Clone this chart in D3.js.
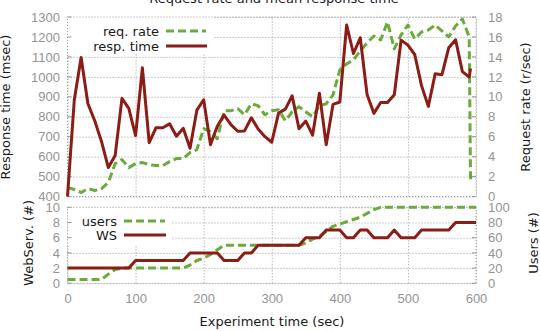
<!DOCTYPE html>
<html>
<head>
<meta charset="utf-8">
<script src="https://cdn.jsdelivr.net/npm/d3@7"></script>
<style>
  body { margin: 0; background: #fff; }
  svg { display: block; font-family: "DejaVu Sans", sans-serif; }
  .tick text { fill: #949494; font-size: 13px; }
  .grid line { stroke: #9a9a9a; stroke-dasharray: 1,2; }
  .grid path { display: none; }
  .lbl { fill: #1a1a1a; font-size: 13px; }
</style>
</head>
<body>
<div id="chart"></div>
<script>
// ---------- data ----------
// top panel: request rate (r/sec) and mean response time (msec)
const topTimes = [0,10,20,30,40,50,60,70,80,90,100,110,120,130,140,150,160,170,180,190,
  200,210,220,230,240,250,260,270,280,290,300,310,320,330,340,350,360,370,380,390,
  400,410,420,430,440,450,460,470,480,490,500,510,520,530,540,550,560,570,580,590,592];
const respTime = [400,885,1097,865,780,675,545,605,892,842,705,1045,670,745,745,765,702,742,642,833,
  885,660,752,808,760,727,729,795,738,700,672,818,838,905,740,778,708,918,660,862,
  874,1260,1117,1196,912,817,871,871,910,1184,1159,1112,956,852,1015,1011,1146,1186,1026,999,1042];
const reqRate = [0.9,0.7,0.4,0.8,0.6,0.8,1.4,3.3,3.7,2.9,3.3,3.4,3.2,3.1,3.1,3.5,3.8,3.8,4.4,4.7,
  6.8,6.5,5.8,8.6,8.6,8.8,8.2,9.3,9.1,8.2,8.6,8.7,7.6,8.5,9.0,8.5,8.0,9.1,9.3,10.2,
  12.7,13.3,13.7,14.6,15.4,16.1,15.7,17.5,14.8,16.2,17.2,15.8,16.5,16.7,17.2,16.6,16.0,17.1,17.8,16.0,1.5];

// bottom panel: web servers (#) and users (#)
const botTimes = [0,10,20,30,40,50,60,70,80,90,100,110,120,130,140,150,160,170,180,190,
  200,210,220,230,240,250,260,270,280,290,300,310,320,330,340,350,360,370,380,390,
  400,410,420,430,440,450,460,470,480,490,500,510,520,530,540,550,560,570,580,590,600];
const webServ = [2,2,2,2,2,2,2,2,2,2,3,3,3,3,3,3,3,3,4,4,
  4,4,4,3,3,3,4,4,5,5,5,5,5,5,5,6,6,6,7,7,
  7,6,6,7,7,6,6,6,7,6,6,6,7,7,7,7,7,8,8,8,8];
const users = [5,5,5,5,5,5,12,18,20,20,20,20,20,20,20,20,20,20,24,30,
  33,38,44,50,50,50,50,50,50,50,50,50,50,50,50,53,58,62,68,75,
  78,81,84,87,92,97,100,100,100,100,100,100,100,100,100,100,100,100,100,100,100];

const xTicks = [0,100,200,300,400,500,600];
const respTicks = [400,500,600,700,800,900,1000,1100,1200,1300];
const rateTicks = [0,2,4,6,8,10,12,14,16,18];
const wsTicks = [0,2,4,6,8,10];
const userTicks = [0,20,40,60,80,100];

// ---------- layout ----------
const width = 540, height = 331;
const left = 67.5, right = 476;
const topY0 = 17, topY1 = 196.5;
const botY0 = 207.3, botY1 = 283.3;
const red = "#8c1c16", green = "#6aab3c";
const fmt = d3.format("d");

const svg = d3.select("#chart").append("svg")
    .attr("width", width)
    .attr("height", height);

const x = d3.scaleLinear().domain([0, 600]).range([left, right]);
const yResp = d3.scaleLinear().domain([400, 1300]).range([topY1, topY0]);
const yRate = d3.scaleLinear().domain([0, 18]).range([topY1, topY0]);
const yWS = d3.scaleLinear().domain([0, 10]).range([botY1, botY0]);
const yUsers = d3.scaleLinear().domain([0, 100]).range([botY1, botY0]);

//----- grids -----
function grid(yScale, ticks, y0, y1){
    svg.append("g").attr("class", "grid")
        .attr("transform", "translate(" + left + ",0)")
        .call(d3.axisLeft(yScale).tickValues(ticks).tickSize(-(right - left)).tickFormat(""));
    svg.append("g").attr("class", "grid")
        .attr("transform", "translate(0," + y1 + ")")
        .call(d3.axisBottom(x).tickValues(xTicks).tickSize(-(y1 - y0)).tickFormat(""));
}
grid(yResp, respTicks, topY0, topY1);
grid(yWS, wsTicks, botY0, botY1);

// legend boxes hide grid
svg.append("rect").attr("x", left).attr("y", topY0).attr("width", 214 - left).attr("height", 53 - topY0).attr("fill", "#fff");
svg.append("rect").attr("x", left).attr("y", botY0).attr("width", 172 - left).attr("height", 246 - botY0).attr("fill", "#fff");

//----- borders + inward ticks -----
function frame(yL, tL, yR, tR, y0, y1){
    svg.append("rect")
        .attr("x", left).attr("y", y0)
        .attr("width", right - left).attr("height", y1 - y0)
        .attr("fill", "none").attr("stroke", "#9a9a9a").attr("stroke-dasharray", "1,2");
    tL.forEach(function(v){
        svg.append("line").attr("x1", left).attr("x2", left + 4)
            .attr("y1", yL(v)).attr("y2", yL(v)).attr("stroke", "#9a9a9a");
    });
    tR.forEach(function(v){
        svg.append("line").attr("x1", right - 4).attr("x2", right)
            .attr("y1", yR(v)).attr("y2", yR(v)).attr("stroke", "#9a9a9a");
    });
}
frame(yResp, respTicks, yRate, rateTicks, topY0, topY1);
frame(yWS, wsTicks, yUsers, userTicks, botY0, botY1);

//----- tick labels -----
function labels(axis, tx, ty){
    const g = svg.append("g").attr("transform", "translate(" + tx + "," + ty + ")").call(axis);
    g.select(".domain").remove();
    g.selectAll(".tick line").remove();
}
labels(d3.axisLeft(yResp).tickValues(respTicks).tickFormat(fmt).tickSize(0).tickPadding(7.5), left, 0);
labels(d3.axisRight(yRate).tickValues(rateTicks).tickFormat(fmt).tickSize(0).tickPadding(12), right, 0);
labels(d3.axisLeft(yWS).tickValues(wsTicks).tickFormat(fmt).tickSize(0).tickPadding(7.5), left, 0);
labels(d3.axisRight(yUsers).tickValues(userTicks).tickFormat(fmt).tickSize(0).tickPadding(12), right, 0);
labels(d3.axisBottom(x).tickValues(xTicks).tickFormat(fmt).tickSize(0).tickPadding(10), 0, botY1);

//----- lines -----
function drawLine(times, vals, yScale, color, dashed){
    const line = d3.line()
        .x(function(d, i){ return x(times[i]); })
        .y(function(d){ return yScale(d); });
    svg.append("path")
        .attr("fill", "none")
        .attr("stroke", color)
        .attr("stroke-width", 3)
        .attr("stroke-linejoin", "round")
        .attr("stroke-dasharray", dashed ? "8,4" : null)
        .attr("d", line(vals));
}
drawLine(topTimes, reqRate, yRate, green, true);
drawLine(topTimes, respTime, yResp, red, false);
drawLine(botTimes, users, yUsers, green, true);
drawLine(botTimes, webServ, yWS, red, false);

//----- legends -----
function legendItem(label, yy, x1, x2, color, dashed){
    svg.append("text").attr("class", "lbl")
        .attr("x", x1 - 7).attr("y", yy).attr("dy", "0.35em")
        .attr("text-anchor", "end").text(label);
    svg.append("line")
        .attr("x1", x1).attr("x2", x2).attr("y1", yy).attr("y2", yy)
        .attr("stroke", color).attr("stroke-width", 3)
        .attr("stroke-dasharray", dashed ? "8,4" : null);
}
legendItem("req. rate", 31, 166, 206, green, true);
legendItem("resp. time", 46, 166, 207, red, false);
legendItem("users", 221, 124, 165, green, true);
legendItem("WS", 235, 124, 166, red, false);

//----- titles -----
svg.append("text").attr("class", "lbl")
    .attr("x", 274).attr("y", 3).attr("text-anchor", "middle")
    .text("Request rate and mean response time");
svg.append("text").attr("class", "lbl")
    .attr("x", 272).attr("y", 326).attr("text-anchor", "middle")
    .text("Experiment time (sec)");

function yTitle(label, cx, cy){
    svg.append("text").attr("class", "lbl")
        .attr("transform", "translate(" + cx + "," + cy + ") rotate(-90)")
        .attr("text-anchor", "middle").attr("dy", "0.35em")
        .text(label);
}
yTitle("Response time (msec)", 5, 107);
yTitle("WebServ. (#)", 28, 243);
yTitle("Request rate (r/sec)", 525, 107);
yTitle("Users (#)", 533, 243);
</script>
</body>
</html>
